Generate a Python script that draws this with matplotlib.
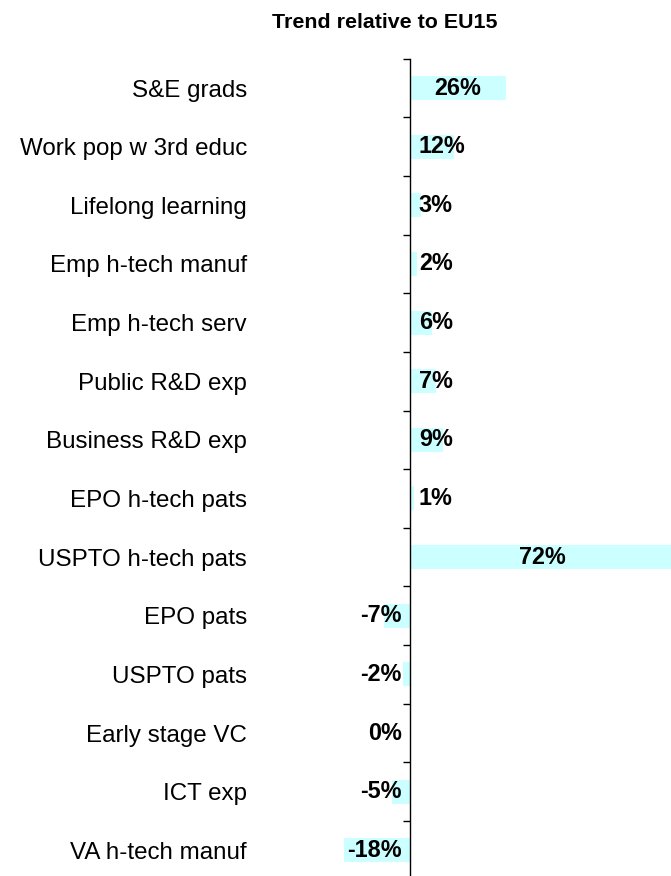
import numpy as np
import matplotlib
matplotlib.use('Agg')
import matplotlib.pyplot as plt

# Chart data
categories = ['S&E grads', 'Work pop w 3rd educ', 'Lifelong learning', 'Emp h-tech manuf',
              'Emp h-tech serv', 'Public R&D exp', 'Business R&D exp', 'EPO h-tech pats',
              'USPTO h-tech pats', 'EPO pats', 'USPTO pats', 'Early stage VC',
              'ICT exp', 'VA h-tech manuf']
trend = [26, 12, 3, 2, 6, 7, 9, 1, 72, -7, -2, 0, -5, -18]

plt.rcParams['font.family'] = ['Liberation Sans', 'DejaVu Sans']

W, H = 671, 876
fig = plt.figure(figsize=(W / 100, H / 100), dpi=100)

# axis position in pixels: zero line at x=410, 3.68 px per percent
px_per = 3.68
x0_px, x1_px = 300, 671
top_px, bot_px = 58.7, 879.6
ax = fig.add_axes([x0_px / W, (H - bot_px) / H, (x1_px - x0_px) / W, (bot_px - top_px) / H])
ax.set_xlim((x0_px - 410) / px_per, (x1_px - 410) / px_per)

y = np.arange(len(categories))
ax.barh(y, trend, height=0.41, color='#CCFFFF', zorder=1)
ax.set_ylim(len(categories) - 0.5, -0.5)

# data labels
for yi, v in zip(y, trend):
    if v >= 20:
        ax.text(v / 2, yi, f'{v}%', ha='center', va='center', fontsize=16.8, fontweight='bold', zorder=3)
    elif v > 0:
        ax.text(2.4, yi, f'{v}%', ha='left', va='center', fontsize=16.8, fontweight='bold', zorder=3)
    else:
        ax.text(-2.2, yi, f'{v}%', ha='right', va='center', fontsize=16.8, fontweight='bold', zorder=3)

# axes styling
for s in ['top', 'right', 'bottom']:
    ax.spines[s].set_visible(False)
ax.spines['left'].set_position(('data', 0))
ax.spines['left'].set_linewidth(1.0)
ax.spines['left'].set_zorder(4)
ax.set_xticks([])
ax.set_yticks(y)
ax.set_yticklabels(categories, fontsize=17.4)
ax.tick_params(axis='y', which='major', length=0, pad=(410 - 247) * 0.72)
ax.set_yticks(np.arange(len(categories) + 1) - 0.5, minor=True)
ax.tick_params(axis='y', which='minor', length=5, width=1.0, direction='out')

fig.text(385 / W, 1 - 22 / H, 'Trend relative to EU15', ha='center', va='center',
         fontsize=15.4, fontweight='bold')

fig.savefig('out.png', dpi=100)
